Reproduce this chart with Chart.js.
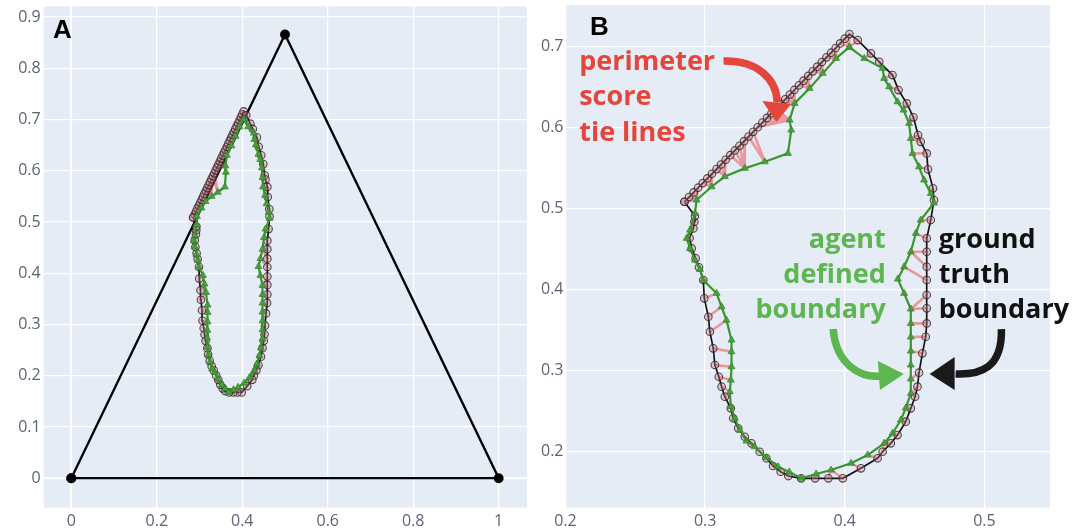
<!DOCTYPE html>
<html>
<head>
<meta charset="utf-8">
<script src="https://cdn.jsdelivr.net/npm/chart.js@4.4.1/dist/chart.umd.min.js"></script>
<style>
  html, body { margin: 0; padding: 0; background: #ffffff; }
  #wrap { position: relative; width: 1073px; height: 528px; overflow: hidden; }
  #chartA { position: absolute; left: 0; top: 0; }
  #chartB { position: absolute; left: 535px; top: 0; }
</style>
</head>
<body>
<div id="wrap">
  <canvas id="chartA" width="535" height="528"></canvas>
  <canvas id="chartB" width="538" height="528"></canvas>
</div>
<script>
// Ground-truth region boundary (closed), clockwise from the lower end of the straight edge
const GT_X = [
  0.2852,0.2885,0.2918,0.2950,0.2983,0.3016,0.3049,0.3082,0.3114,0.3147,0.3180,0.3213,0.3246,0.3279,0.3311,0.3344,0.3377,0.3410,0.3443,0.3475,0.3508,0.3541,0.3574,0.3607,0.3639,0.3672,0.3705,0.3738,0.3771,0.3803,0.3836,0.3869,0.3902,0.3935,0.3967,0.4000,0.4033,
  0.4093,0.4188,0.4247,0.4342,0.4385,0.4444,0.4492,0.4525,0.4544,0.4587,0.4596,0.4632,0.4639,0.4616,
  0.4587,0.4587,0.4587,0.4587,0.4587,0.4587,0.4587,0.4580,0.4556,0.4532,0.4521,0.4504,0.4473,0.4437,
  0.4378,0.4330,0.4271,0.4235,0.4116,0.3986,0.3883,0.3788,0.3688,0.3596,0.3541,0.3486,0.3439,0.3391,
  0.3332,0.3284,0.3237,0.3201,0.3184,0.3141,0.3118,0.3098,0.3070,0.3058,0.3034,0.3023,0.2994,0.2987,
  0.2956,0.2932,0.2904,0.2889,0.2916,0.2923,0.2927
];
const GT_Y = [
  0.5088,0.5146,0.5203,0.5261,0.5318,0.5376,0.5433,0.5491,0.5548,0.5606,0.5663,0.5721,0.5778,0.5836,0.5893,0.5951,0.6008,0.6066,0.6123,0.6181,0.6238,0.6296,0.6353,0.6411,0.6468,0.6526,0.6583,0.6641,0.6698,0.6756,0.6813,0.6871,0.6928,0.6986,0.7043,0.7101,0.7158,
  0.7084,0.6920,0.6816,0.6652,0.6467,0.6302,0.6130,0.5911,0.5828,0.5685,0.5488,0.5253,0.5109,0.4862,
  0.4636,0.4470,0.4285,0.4121,0.3936,0.3772,0.3586,0.3421,0.3216,0.2977,0.2805,0.2680,0.2537,0.2372,
  0.2207,0.2105,0.2001,0.1920,0.1796,0.1673,0.1673,0.1673,0.1673,0.1701,0.1754,0.1825,0.1920,0.2001,
  0.2105,0.2186,0.2290,0.2414,0.2537,0.2680,0.2804,0.2927,0.3072,0.3278,0.3483,0.3668,0.3895,0.4121,
  0.4278,0.4389,0.4512,0.4640,0.4759,0.4841,0.4911
];

// Agent-defined boundary (closed), clockwise from its top vertex
const AGENT_X = [
  0.4033,0.4140,0.4271,0.4282,0.4318,0.4378,0.4421,0.4461,0.4473,0.4485,0.4532,0.4568,0.4616,0.4639,
  0.4544,0.4509,0.4473,0.4425,0.4380,0.4425,0.4473,0.4473,0.4473,0.4473,0.4473,0.4473,0.4473,
  0.4437,0.4402,0.4342,0.4282,0.4164,0.4045,0.3902,0.3795,0.3688,
  0.3603,0.3522,0.3439,0.3355,0.3296,0.3248,0.3213,0.3184,0.3177,0.3184,0.3189,0.3189,0.3189,
  0.3153,0.3118,0.3082,0.2987,0.2963,0.2927,0.2892,0.2868,0.2892,0.2927,0.2939,
  0.3046,0.3141,0.3284,0.3427,0.3593,0.3617,0.3605,0.3641,0.3748,0.3843,0.3938
];
const AGENT_Y = [
  0.6997,0.6858,0.6735,0.6611,0.6507,0.6322,0.6220,0.6056,0.5870,0.5685,0.5520,0.5356,0.5191,0.5072,
  0.4862,0.4698,0.4470,0.4285,0.4133,0.3957,0.3763,0.3586,0.3417,0.3244,0.3072,0.2899,0.2722,
  0.2541,0.2393,0.2228,0.2105,0.1960,0.1858,0.1775,0.1726,0.1673,
  0.1751,0.1816,0.1930,0.2063,0.2133,0.2269,0.2414,0.2557,0.2742,0.2886,0.3051,0.3236,0.3380,
  0.3626,0.3791,0.3957,0.4121,0.4253,0.4368,0.4512,0.4636,0.4738,0.4944,0.5109,
  0.5273,0.5399,0.5500,0.5581,0.5685,0.5973,0.6096,0.6302,0.6488,0.6673,0.6858
];

// Composition triangle corners
const TRI_X = [0, 0.5, 1, 0];
const TRI_Y = [0, 0.866, 0, 0];

// Tick values
const A_X_TICKS = [0, 0.2, 0.4, 0.6, 0.8, 1];
const A_Y_TICKS = [0, 0.1, 0.2, 0.3, 0.4, 0.5, 0.6, 0.7, 0.8, 0.9];
const B_X_TICKS = [0.2, 0.3, 0.4, 0.5];
const B_Y_TICKS = [0.2, 0.3, 0.4, 0.5, 0.6, 0.7];

const TICK_COLOR = '#5c6372';
const PLOT_BG = '#E5ECF6';
const GREEN_LINE = 'rgb(58,150,46)';

function toPoints(xs, ys, close) {
  const out = xs.map((x, i) => ({ x: x, y: ys[i] }));
  if (close) out.push({ x: xs[0], y: ys[0] });
  return out;
}

// Tie lines: each ground-truth point joined to the closest agent boundary point
const ASPECT = 1.73;
function nearestAgentPoint(px, py) {
  let best = 0, bd = Infinity;
  AGENT_X.forEach((ax, i) => {
    const dx = (ax - px) * ASPECT, dy = AGENT_Y[i] - py;
    const d = dx * dx + dy * dy;
    if (d < bd) { bd = d; best = i; }
  });
  return { x: AGENT_X[best], y: AGENT_Y[best] };
}
const tieData = [];
GT_X.forEach((gx, i) => {
  const gy = GT_Y[i];
  const p = nearestAgentPoint(gx, gy);
  tieData.push({ x: gx, y: gy }, { x: p.x, y: p.y }, { x: gx, y: null });
});

function fmt(v) { return String(Math.round(v * 10) / 10); }

function axis(kind, min, max, ticksArr, size, pad, zeroWide) {
  return {
    type: 'linear',
    min: min, max: max,
    afterBuildTicks: s => { s.ticks = ticksArr.map(v => ({ value: v })); },
    afterFit: s => {
      if (kind === 'y') { s.width = size; s.paddingTop = 0; s.paddingBottom = 0; }
      else { s.height = size; s.paddingLeft = 0; s.paddingRight = 0; }
    },
    grid: {
      color: '#ffffff',
      lineWidth: ctx => (zeroWide && ctx.tick && ctx.tick.value === 0) ? 2.2 : 1.3,
      drawTicks: false
    },
    border: { display: false },
    ticks: {
      padding: pad,
      color: TICK_COLOR,
      font: { family: '"Open Sans", "DejaVu Sans", sans-serif', size: 16 },
      callback: v => fmt(v),
      autoSkip: false,
      maxRotation: 0
    }
  };
}

const plotBg = {
  id: 'plotBg',
  beforeDraw(chart) {
    const { ctx, chartArea: a } = chart;
    ctx.save();
    ctx.fillStyle = PLOT_BG;
    ctx.fillRect(a.left, a.top, a.right - a.left, a.bottom - a.top);
    ctx.restore();
  }
};

function boundaryDatasets() {
  return [
    {
      label: 'agent defined boundary',
      data: toPoints(AGENT_X, AGENT_Y, true),
      showLine: true,
      borderColor: GREEN_LINE,
      borderWidth: 2.2,
      pointStyle: 'triangle',
      pointRadius: 4,
      pointBackgroundColor: 'rgba(70,160,55,0.9)',
      pointBorderColor: 'rgba(50,130,40,0.9)',
      pointBorderWidth: 0.8,
      order: 0
    },
    {
      label: 'ground truth boundary',
      data: toPoints(GT_X, GT_Y, true),
      showLine: true,
      borderColor: '#151515',
      borderWidth: 1.7,
      pointStyle: 'circle',
      pointRadius: 3.8,
      pointBackgroundColor: 'rgba(205,125,135,0.35)',
      pointBorderColor: 'rgba(45,35,40,0.8)',
      pointBorderWidth: 1.1,
      order: 1
    },
    {
      label: 'perimeter score tie lines',
      data: tieData,
      showLine: true,
      spanGaps: false,
      borderColor: 'rgba(234,84,84,0.55)',
      borderWidth: 2.6,
      pointRadius: 0,
      order: 2
    }
  ];
}

function labelPlugin(id, texts, arrows) {
  return {
    id: id,
    afterDatasetsDraw(chart) {
      const { ctx, scales: { x, y } } = chart;
      const P = p => [x.getPixelForValue(p[0]), y.getPixelForValue(p[1])];
      ctx.save();
      arrows.forEach(a => {
        const b = a.body.map(P);
        ctx.strokeStyle = a.color;
        ctx.lineWidth = 7.5;
        ctx.lineCap = 'butt';
        ctx.beginPath();
        ctx.moveTo(b[0][0], b[0][1]);
        ctx.bezierCurveTo(b[1][0], b[1][1], b[2][0], b[2][1], b[3][0], b[3][1]);
        ctx.stroke();
        const h = a.head.map(P);
        ctx.fillStyle = a.color;
        ctx.beginPath();
        ctx.moveTo(h[0][0], h[0][1]);
        ctx.lineTo(h[1][0], h[1][1]);
        ctx.lineTo(h[2][0], h[2][1]);
        ctx.closePath();
        ctx.fill();
      });
      texts.forEach(t => {
        ctx.font = t.font;
        ctx.fillStyle = t.color;
        ctx.textAlign = t.align;
        ctx.textBaseline = 'alphabetic';
        t.lines.forEach((s, i) => {
          const p = P([t.x, t.ys[i]]);
          ctx.fillText(s, p[0], p[1]);
        });
      });
      ctx.restore();
    }
  };
}

const NOTE_FONT = 'bold 27px "Open Sans", "DejaVu Sans", sans-serif';
const PANEL_FONT = 'bold 26px "Liberation Sans", Arial, sans-serif';

// Panel A: full composition triangle
new Chart(document.getElementById('chartA'), {
  type: 'scatter',
  data: {
    datasets: boundaryDatasets().concat([{
      label: 'triangle',
      data: toPoints(TRI_X, TRI_Y, false),
      showLine: true,
      borderColor: '#000000',
      borderWidth: 2.3,
      pointRadius: 3.8,
      pointBackgroundColor: '#000000',
      pointBorderColor: '#000000',
      order: 3
    }])
  },
  options: {
    responsive: false,
    animation: false,
    events: [],
    layout: { padding: { left: 0, right: 8.1, top: 5, bottom: 0 } },
    plugins: { legend: { display: false }, tooltip: { enabled: false } },
    scales: {
      x: axis('x', -0.0646, 1.066, A_X_TICKS, 20.3, 4, true),
      y: axis('y', -0.0576, 0.921, A_Y_TICKS, 43.7, 3, true)
    }
  },
  plugins: [plotBg, labelPlugin('labelsA', [
    { lines: ['A'], x: -0.043, ys: [0.8587], font: PANEL_FONT, color: '#000', align: 'left' }
  ], [])]
});

// Panel B: close-up of the region with annotations
new Chart(document.getElementById('chartB'), {
  type: 'scatter',
  data: { datasets: boundaryDatasets() },
  options: {
    responsive: false,
    animation: false,
    events: [],
    layout: { padding: { left: 0, right: 23, top: 5, bottom: 0 } },
    plugins: { legend: { display: false }, tooltip: { enabled: false } },
    scales: {
      x: axis('x', 0.2, 0.547, B_X_TICKS, 20.3, 4, false),
      y: axis('y', 0.131, 0.7516, B_Y_TICKS, 30.5, 2, false)
    }
  },
  plugins: [plotBg, labelPlugin('labelsB', [
    { lines: ['B'], x: 0.2176, ys: [0.7141], font: PANEL_FONT, color: '#000', align: 'left' },
    { lines: ['perimeter', 'score', 'tie lines'], x: 0.2098, ys: [0.6714, 0.6281, 0.5841], font: NOTE_FONT, color: '#E5463C', align: 'left' },
    { lines: ['agent', 'defined', 'boundary'], x: 0.4294, ys: [0.4522, 0.4086, 0.3652], font: NOTE_FONT, color: '#5DB64F', align: 'right' },
    { lines: ['ground', 'truth', 'boundary'], x: 0.4673, ys: [0.4522, 0.4086, 0.3652], font: NOTE_FONT, color: '#111111', align: 'left' }
  ], [
    { color: '#E5463C', body: [[0.3132, 0.6825], [0.3367, 0.6837], [0.3510, 0.6615], [0.3517, 0.6318]], head: [[0.3510, 0.6072], [0.3410, 0.6331], [0.3617, 0.6294]] },
    { color: '#5DB64F', body: [[0.3917, 0.3516], [0.3938, 0.3072], [0.4116, 0.2911], [0.4259, 0.2936]], head: [[0.4423, 0.2961], [0.4238, 0.3121], [0.4252, 0.2763]] },
    { color: '#1a1a1a', body: [[0.5122, 0.3516], [0.5129, 0.3035], [0.4972, 0.2948], [0.4794, 0.2961]], head: [[0.4608, 0.2961], [0.4787, 0.3170], [0.4787, 0.2763]] }
  ])]
});
</script>
</body>
</html>
